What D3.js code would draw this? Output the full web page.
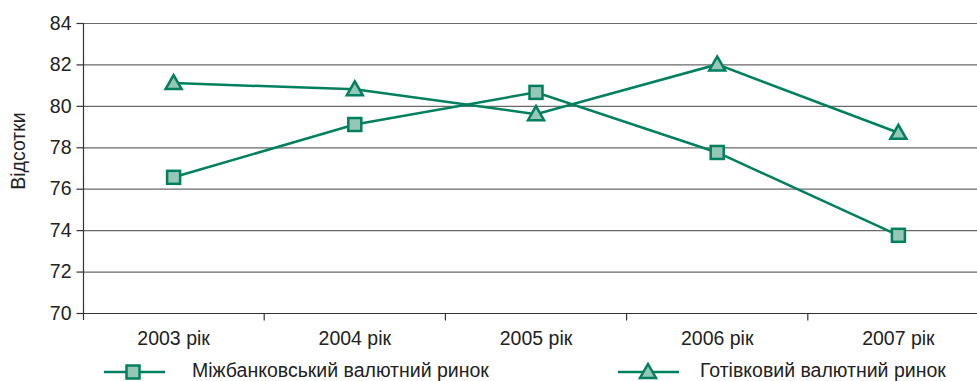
<!DOCTYPE html>
<html><head><meta charset="utf-8">
<script src="https://cdn.jsdelivr.net/npm/d3@7"></script>
<style>body{margin:0;background:#fff;}svg{display:block;font-family:"Liberation Sans",Arial,sans-serif;}</style>
</head><body>
<svg id="c" width="977" height="381"></svg>
<script>
const categories = ["2003 рік","2004 рік","2005 рік","2006 рік","2007 рік"];
const interbank = [76.55, 79.1, 80.65, 77.75, 73.75];
const cash = [81.1, 80.8, 79.6, 82.0, 78.7];
const yTicks = [70,72,74,76,78,80,82,84];
const seriesNames = ["Міжбанковський валютний ринок","Готівковий валютний ринок"];

(function(){
const svg = d3.select("#c");
const pLeft = 83, pRight = 989, pTop = 23, pBottom = 313;
const stroke = "#00805f", fill = "#96c6b5";
const fs = 19.5;
const x = d3.scaleBand().domain(categories).range([pLeft, pRight]);
const y = d3.scaleLinear().domain([70,84]).range([pBottom, pTop]);

// gridlines
svg.append("g").selectAll("line").data(yTicks.slice(1)).join("line")
  .attr("x1", pLeft).attr("x2", pRight)
  .attr("y1", d=>y(d)+0.5).attr("y2", d=>y(d)+0.5)
  .attr("stroke", "#6a6a6a").attr("stroke-width", 1.2);

// y axis
const ya = svg.append("g").attr("transform", `translate(${pLeft+0.5},0)`)
  .call(d3.axisLeft(y).tickValues(yTicks).tickSize(7).tickPadding(5).tickFormat(d3.format("d")));
ya.attr("font-size", null).attr("font-family", null);
ya.selectAll("text").style("font-size", fs+"px").attr("fill", "#222");
ya.selectAll("line,path").attr("stroke", "#333").attr("stroke-width", 1.2);
ya.select("path").attr("d", `M0,${pTop}V${pBottom+7}`);

// x axis
const xa = svg.append("g").attr("transform", `translate(0,${pBottom+0.5})`);
xa.append("line").attr("x1", pLeft).attr("x2", pRight).attr("stroke", "#333").attr("stroke-width", 1.2);
xa.selectAll("line.t").data(categories).join("line").attr("class","t")
  .attr("x1", d=> x(d)+x.bandwidth()).attr("x2", d=> x(d)+x.bandwidth())
  .attr("y1", 0).attr("y2", 7).attr("stroke", "#333").attr("stroke-width", 1.2);
xa.selectAll("text").data(categories).join("text")
  .attr("x", d=>x(d)+x.bandwidth()/2).attr("y", 31.5)
  .attr("text-anchor","middle").style("font-size", fs+"px").attr("fill","#222").text(d=>d);

// y label
svg.append("text").attr("transform", "translate(25,151) rotate(-90)")
  .attr("text-anchor","middle").style("font-size", fs+"px").attr("fill","#222").text("Відсотки");

const cx = d => x(d)+x.bandwidth()/2;
const line = d3.line().x((d,i)=>cx(categories[i])).y(d=>y(d));

function square(g, px, py){
  g.append("rect").attr("x", px-6.5).attr("y", py-6.5).attr("width", 13).attr("height", 13)
   .attr("fill", fill).attr("stroke", stroke).attr("stroke-width", 2.5);
}
function tri(g, px, py){
  const s = 8;
  g.append("path").attr("d", `M${px},${py-s}L${px+s},${py+s*0.75}L${px-s},${py+s*0.75}Z`)
   .attr("fill", fill).attr("stroke", stroke).attr("stroke-width", 2.5).attr("stroke-linejoin","miter");
}

[interbank, cash].forEach((vals, si) => {
  svg.append("path").datum(vals).attr("d", line).attr("fill","none")
    .attr("stroke", stroke).attr("stroke-width", 2.5);
  const g = svg.append("g");
  vals.forEach((v,i) => (si===0?square:tri)(g, cx(categories[i]), y(v)));
});

// legend
const leg = [{x0:104, mx:133, tx:192}, {x0:618, mx:648, tx:700}];
leg.forEach((L, i) => {
  const g = svg.append("g");
  g.append("line").attr("x1", L.x0).attr("x2", L.x0+61).attr("y1", 372).attr("y2", 372)
    .attr("stroke", stroke).attr("stroke-width", 2.5);
  (i===0?square:tri)(g, L.mx, 372);
  g.append("text").attr("x", L.tx).attr("y", 376.5).style("font-size", fs+"px").attr("fill","#222").text(seriesNames[i]);
});
})();
</script>
</body></html>
